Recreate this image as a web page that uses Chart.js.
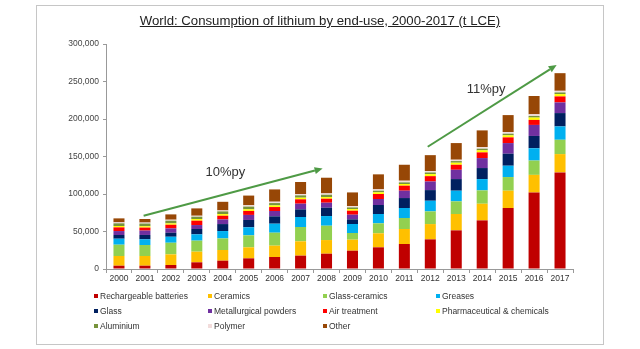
<!DOCTYPE html>
<html lang="en">
<head>
  <meta charset="UTF-8">
  <title>World lithium consumption by end-use</title>
  <script src="https://cdnjs.cloudflare.com/ajax/libs/Chart.js/4.4.0/chart.umd.js"></script>
  <style>
    body {
      margin: 0;
      background: #fff;
      font-family: "Liberation Sans", Arial, sans-serif;
    }

    .frame {
      position: absolute;
      left: 36px;
      top: 5px;
      width: 566px;
      height: 338px;
      border: 1px solid #c6c6c6;
    }

    .wrap {
      position: absolute;
      left: 0;
      top: 0;
      width: 640px;
      height: 349px;
    }

    h1 {
      position: absolute;
      left: 0;
      top: 13px;
      width: 640px;
      margin: 0;
      font-size: 13.2px;
      font-weight: normal;
      text-align: center;
      text-decoration: underline;
      color: #222;
    }

    .legend {
      position: absolute;
      left: 94px;
      top: 288px;
      display: grid;
      grid-template-columns: 114px 115px 113px 150px;
      grid-auto-rows: 15px;
      font-size: 8.5px;
      color: #333;
    }

    .legend div {
      display: flex;
      align-items: center;
      white-space: nowrap;
    }

    .legend i {
      display: inline-block;
      width: 4px;
      height: 4px;
      margin-right: 2px;
    }
  </style>
</head>
<body>
  <div class="frame"></div>
  <div class="wrap"><canvas id="chart" width="640" height="349"></canvas></div>
  <h1>World: Consumption of lithium by end-use, 2000-2017 (t LCE)</h1>
  <div class="legend" id="legend"></div>

  <script>
    const years = ['2000', '2001', '2002', '2003', '2004', '2005', '2006', '2007', '2008',
      '2009', '2010', '2011', '2012', '2013', '2014', '2015', '2016', '2017'];

    // tonnes of lithium carbonate equivalent, per end-use
    const batteries = [4400, 4400, 5300, 8900, 11100, 14200, 16000, 17800, 20400, 24400, 28900, 33300, 39500, 51500, 64800, 81300, 102000, 128800];
    const ceramics = [12900, 12900, 14200, 14200, 14200, 14700, 15100, 19100, 18200, 14700, 18700, 20000, 20400, 21800, 22200, 23100, 23500, 24400];
    const glassCeramics = [15100, 14700, 15500, 14700, 15500, 16000, 17300, 19100, 19100, 8900, 13300, 14700, 16900, 16900, 17800, 18200, 19100, 19100];
    const greases = [8000, 7600, 8000, 8400, 9800, 10700, 12000, 13300, 12900, 12000, 12400, 13300, 14200, 14200, 15100, 15100, 16400, 17800];
    const glass = [4900, 5800, 5300, 7100, 9300, 9800, 9800, 10200, 11100, 6200, 12000, 13300, 14200, 15500, 14700, 16000, 16400, 17800];
    const powders = [5300, 5800, 5800, 5300, 6200, 6700, 7100, 7600, 6700, 6200, 8000, 9800, 11500, 12400, 13300, 14200, 14700, 14200];
    const airTreatment = [4900, 4000, 4900, 5800, 4900, 5300, 5300, 5800, 5300, 5300, 6700, 6700, 7100, 6700, 7600, 7600, 6700, 8000];
    const pharma = [1800, 1800, 1800, 2200, 2200, 2200, 2200, 2200, 2200, 2200, 2200, 2200, 2700, 2700, 2700, 2700, 3100, 3100];
    const aluminium = [3600, 3600, 3600, 3100, 3600, 3600, 3100, 3100, 3100, 2200, 2200, 2200, 2200, 2200, 2200, 2200, 2200, 2200];
    const polymer = [1300, 1300, 1300, 1300, 1300, 1800, 1800, 1800, 1800, 1800, 1800, 2200, 1800, 1800, 2200, 2200, 2200, 2200];
    const other = [5300, 4800, 7100, 9800, 11500, 12900, 16400, 16000, 20900, 18200, 20000, 21300, 21300, 22200, 22200, 22600, 24400, 23500];

    const names = ['Rechargeable batteries', 'Ceramics', 'Glass-ceramics', 'Greases', 'Glass',
      'Metallurgical powders', 'Air treatment', 'Pharmaceutical & chemicals', 'Aluminium', 'Polymer', 'Other'];
    const values = [batteries, ceramics, glassCeramics, greases, glass, powders, airTreatment, pharma, aluminium, polymer, other];
    const colors = ['#C00000', '#FFC000', '#92D050', '#00B0F0', '#002060', '#7030A0', '#FF0000',
      '#FFFF00', '#77933C', '#F2DCDB', '#974706'];

    const yTicks = [0, 50000, 100000, 150000, 200000, 250000, 300000];

    // growth arrows: [category index, value] from / to, label position
    const growthLabels = ['10%py', '11%py'];
    const arrowFrom = [[0.95, 71000], [11.9, 163000]];
    const arrowTo = [[7.85, 134000], [16.87, 272000]];
    const labelAt = [[4.1, 129000], [14.15, 239000]];

    Chart.defaults.font.family = '"Liberation Sans", Arial, sans-serif';

    const arrows = {
      id: 'arrows',
      afterDatasetsDraw(chart) {
        const { ctx, scales: { x, y } } = chart;
        ctx.save();
        ctx.strokeStyle = '#4E9A45';
        ctx.fillStyle = '#4E9A45';
        ctx.lineWidth = 2;
        arrowFrom.forEach((f, i) => {
          const x1 = x.getPixelForValue(f[0]), y1 = y.getPixelForValue(f[1]);
          const x2 = x.getPixelForValue(arrowTo[i][0]), y2 = y.getPixelForValue(arrowTo[i][1]);
          const a = Math.atan2(y2 - y1, x2 - x1);
          const len = 8, half = 3.5;
          const bx = x2 - len * Math.cos(a), by = y2 - len * Math.sin(a);
          ctx.beginPath();
          ctx.moveTo(x1, y1);
          ctx.lineTo(bx, by);
          ctx.stroke();
          ctx.beginPath();
          ctx.moveTo(x2, y2);
          ctx.lineTo(bx + half * Math.sin(a), by - half * Math.cos(a));
          ctx.lineTo(bx - half * Math.sin(a), by + half * Math.cos(a));
          ctx.closePath();
          ctx.fill();

          ctx.fillStyle = '#333';
          ctx.font = '13px "Liberation Sans", Arial, sans-serif';
          ctx.textAlign = 'center';
          ctx.textBaseline = 'middle';
          ctx.fillText(growthLabels[i], x.getPixelForValue(labelAt[i][0]), y.getPixelForValue(labelAt[i][1]));
          ctx.fillStyle = '#4E9A45';
        });
        ctx.restore();
      }
    };

    new Chart(document.getElementById('chart'), {
      type: 'bar',
      data: {
        labels: years,
        datasets: names.map((n, i) => ({
          label: n,
          data: values[i],
          backgroundColor: colors[i],
          borderWidth: 0,
          barPercentage: 0.85,
          categoryPercentage: 0.5
        }))
      },
      options: {
        responsive: false,
        animation: false,
        layout: { padding: { left: 46, right: 67, top: 44, bottom: 60 } },
        plugins: {
          legend: { display: false },
          tooltip: { enabled: false }
        },
        scales: {
          x: {
            stacked: true,
            afterFit(s) { s.height = 20; },
            grid: { drawOnChartArea: false, offset: true, tickLength: 4, color: '#999' },
            border: { color: '#999' },
            ticks: { color: '#333', font: { size: 8.5 }, padding: 1, maxRotation: 0, autoSkip: false }
          },
          y: {
            stacked: true,
            min: 0,
            max: 300000,
            afterFit(s) { s.width = 60; },
            afterBuildTicks(s) { s.ticks = yTicks.map(v => ({ value: v })); },
            grid: { drawOnChartArea: false, tickLength: 3, color: '#999' },
            border: { color: '#999' },
            ticks: {
              color: '#444',
              font: { size: 8.5 },
              padding: 4,
              callback: v => v.toLocaleString('en-US')
            }
          }
        }
      },
      plugins: [arrows]
    });

    // legend laid out in four columns, row by row
    const legend = document.getElementById('legend');
    names.forEach((n, i) => {
      const item = document.createElement('div');
      const box = document.createElement('i');
      box.style.background = colors[i];
      item.appendChild(box);
      item.appendChild(document.createTextNode(n));
      legend.appendChild(item);
    });
  </script>
</body>
</html>
